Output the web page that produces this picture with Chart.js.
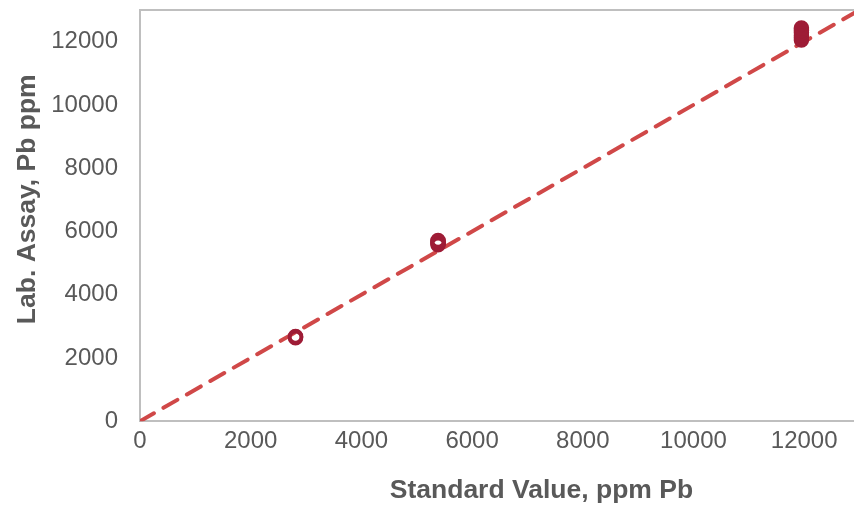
<!DOCTYPE html>
<html>
<head>
<meta charset="utf-8">
<script src="https://cdn.jsdelivr.net/npm/chart.js@4.4.1/dist/chart.umd.min.js"></script>
<style>
  html, body { margin: 0; padding: 0; background: #fff; overflow: hidden; }
  #wrap { width: 854px; height: 507px; }
</style>
</head>
<body>
<div id="wrap"><canvas id="myChart"></canvas></div>
<script>
// standard values (x) and lab assays (y), ppm Pb
const std1 = 2810;
const assay1 = [2640, 2660, 2680];
const std2 = 5385;
const assay2 = [5580, 5610, 5640, 5680, 5710];
const std3 = 11950;
const assay3 = [12050, 12120, 12200, 12280, 12350, 12430];
// 1:1 reference line
const lineX = [0, 13000];
const lineY = [0, 13000];
// tick labels
const xTicks = [0, 2000, 4000, 6000, 8000, 10000, 12000];
const yTicks = [0, 2000, 4000, 6000, 8000, 10000, 12000];
const xTitle = 'Standard Value, ppm Pb';
const yTitle = 'Lab. Assay, Pb ppm';

const points = [];
assay1.forEach(v => points.push({ x: std1, y: v }));
assay2.forEach(v => points.push({ x: std2, y: v }));
assay3.forEach(v => points.push({ x: std3, y: v }));

const greyText = '#595959';
const axisGrey = '#BFBFBF';
const titleFont = 'bold 26.5px "Liberation Sans"';

// top frame line + axis titles (centred on the whole chart box, like Excel)
const frameAndTitles = {
    id: 'frameAndTitles',
    afterDraw(chart) {
        const { ctx, chartArea, width, height } = chart;
        ctx.save();
        ctx.strokeStyle = axisGrey;
        ctx.lineWidth = 2;
        ctx.beginPath();
        ctx.moveTo(chartArea.left, chartArea.top);
        ctx.lineTo(chartArea.right, chartArea.top);
        ctx.stroke();

        ctx.fillStyle = greyText;
        ctx.font = titleFont;
        ctx.textAlign = 'center';
        ctx.textBaseline = 'middle';
        ctx.fillText(xTitle, width * 0.634, height - 16);

        ctx.translate(28, height * 0.393);
        ctx.rotate(-Math.PI / 2);
        ctx.fillText(yTitle, 0, 0);
        ctx.restore();
    }
};

const config = {
    type: 'scatter',
    data: {
        datasets: [{
            label: 'Lab assay',
            data: points,
            pointStyle: 'circle',
            pointRadius: 6,
            borderWidth: 3.5,
            borderColor: '#9E1C36',
            backgroundColor: 'rgba(255,255,255,0)',
            order: 1
        }, {
            label: '1:1',
            type: 'line',
            data: lineX.map((x, i) => ({ x: x, y: lineY[i] })),
            borderColor: '#D04848',
            borderWidth: 4,
            borderDash: [16, 11],
            borderCapStyle: 'round',
            pointRadius: 0,
            fill: false,
            order: 2
        }]
    },
    options: {
        responsive: true,
        maintainAspectRatio: false,
        animation: false,
        layout: { autoPadding: false, padding: { top: 10, right: 0, left: 10, bottom: 45 } },
        plugins: {
            legend: { display: false },
            tooltip: { enabled: false }
        },
        scales: {
            x: {
                type: 'linear',
                min: 0,
                max: 12900,
                afterBuildTicks: axis => { axis.ticks = xTicks.map(v => ({ value: v })); },
                afterFit: axis => { axis.paddingLeft = 0; axis.paddingRight = 0; },
                grid: { display: false, drawTicks: false },
                border: { display: true, color: axisGrey, width: 2 },
                ticks: {
                    color: greyText,
                    padding: 6,
                    maxRotation: 0,
                    autoSkip: false,
                    callback: v => String(v),
                    font: { family: 'Liberation Sans', size: 24 }
                }
            },
            y: {
                type: 'linear',
                min: 0,
                max: 13000,
                afterBuildTicks: axis => { axis.ticks = yTicks.map(v => ({ value: v })); },
                afterFit: axis => { axis.width = 130; axis.paddingTop = 0; axis.paddingBottom = 0; },
                grid: { display: false, drawTicks: false },
                border: { display: true, color: axisGrey, width: 2 },
                ticks: {
                    color: greyText,
                    padding: 22,
                    autoSkip: false,
                    callback: v => String(v),
                    font: { family: 'Liberation Sans', size: 24 }
                }
            }
        }
    },
    plugins: [frameAndTitles]
};

const myChart = new Chart(document.getElementById('myChart'), config);
</script>
</body>
</html>
